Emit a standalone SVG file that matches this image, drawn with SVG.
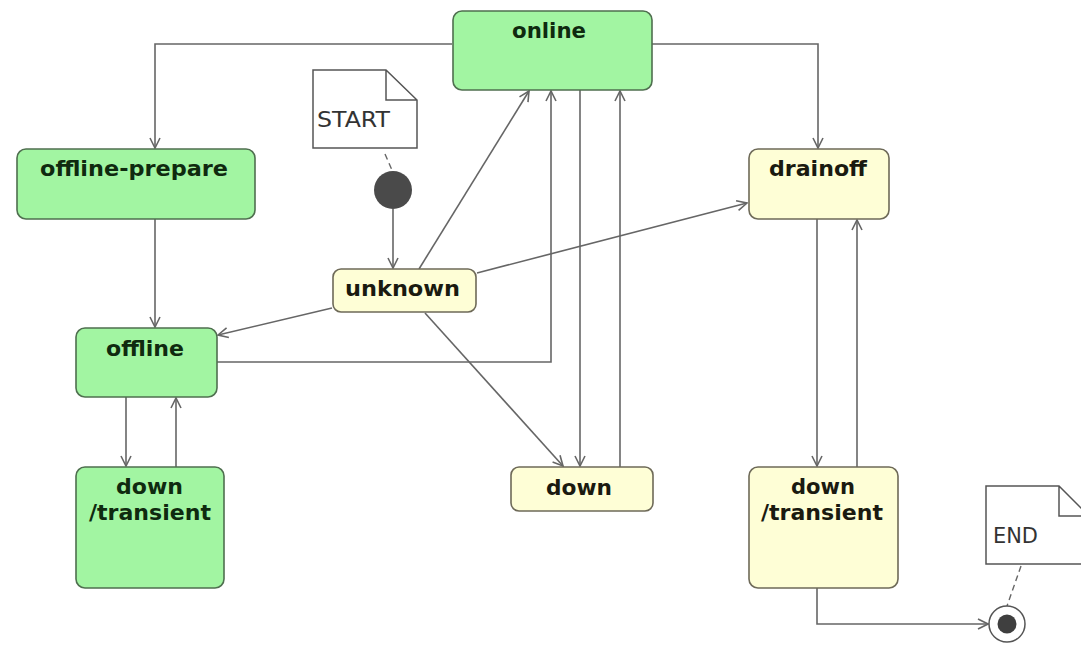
<svg xmlns="http://www.w3.org/2000/svg" width="1081" height="646" viewBox="0 0 1081 646">
<style>
.g rect{fill:#a2f5a2;stroke:#4f6f4f;stroke-width:1.6}
.y rect{fill:#fefed6;stroke:#6e6a58;stroke-width:1.6}
.lbl{font-family:"DejaVu Sans","Liberation Sans",sans-serif;font-weight:bold;font-size:21.5px;text-anchor:start}
.g .lbl{fill:#0f2a0f}
.y .lbl{fill:#1a1a10}
.note path{fill:#fff;stroke:#555;stroke-width:1.5}
.note text{font-family:"DejaVu Sans","Liberation Sans",sans-serif;font-size:22px;fill:#333}
.edges path{fill:none;stroke:#666;stroke-width:1.6;marker-end:url(#arr)}
.anchor{stroke:#666;stroke-width:1.4;stroke-dasharray:6 4;fill:none}
</style>
<defs>
<marker id="arr" viewBox="0 0 12 12" refX="11" refY="6" markerWidth="12" markerHeight="12" markerUnits="userSpaceOnUse" orient="auto">
<path d="M1,1 L11,6 L1,11" fill="none" stroke="#666" stroke-width="1.6"/>
</marker>
</defs>
<rect width="1081" height="646" fill="#fff"/>
<g class="edges">
<path d="M452,44 H155 V148"/>
<path d="M652,44 H818 V148"/>
<path d="M155,219 V327"/>
<path d="M393,209 V268"/>
<path d="M419,269 L529,91"/>
<path d="M217,362 H551 V91"/>
<path d="M580,90 V466"/>
<path d="M620,467 V91"/>
<path d="M477,273 L747,203"/>
<path d="M332,308 L218,335"/>
<path d="M425,313 L563,466"/>
<path d="M126,397 V466"/>
<path d="M176,467 V398"/>
<path d="M817,219 V466"/>
<path d="M857,467 V220"/>
<path d="M817,588 V624 H988"/>
</g>
<g id="online" class="g"><rect x="453" y="11" width="199" height="79" rx="9"/><text class="lbl" x="512" y="38" textLength="74" lengthAdjust="spacingAndGlyphs">online</text></g>
<g id="offline-prepare" class="g"><rect x="17" y="149" width="238" height="70" rx="9"/><text class="lbl" x="40" y="176" textLength="188" lengthAdjust="spacingAndGlyphs">offline-prepare</text></g>
<g id="drainoff" class="y"><rect x="749" y="149" width="140" height="70" rx="9"/><text class="lbl" x="769" y="176" textLength="98" lengthAdjust="spacingAndGlyphs">drainoff</text></g>
<g id="unknown" class="y"><rect x="333" y="269" width="143" height="43" rx="8"/><text class="lbl" x="345" y="296" textLength="115" lengthAdjust="spacingAndGlyphs">unknown</text></g>
<g id="offline" class="g"><rect x="76" y="328" width="141" height="69" rx="9"/><text class="lbl" x="106" y="356" textLength="78" lengthAdjust="spacingAndGlyphs">offline</text></g>
<g id="down-transient-left" class="g"><rect x="76" y="467" width="148" height="121" rx="9"/><text class="lbl" x="116" y="494" textLength="67" lengthAdjust="spacingAndGlyphs">down</text><text class="lbl" x="89" y="520" textLength="122" lengthAdjust="spacingAndGlyphs">/transient</text></g>
<g id="down" class="y"><rect x="511" y="467" width="142" height="44" rx="8"/><text class="lbl" x="546" y="495" textLength="66" lengthAdjust="spacingAndGlyphs">down</text></g>
<g id="down-transient-right" class="y"><rect x="749" y="467" width="149" height="121" rx="9"/><text class="lbl" x="791" y="494" textLength="64" lengthAdjust="spacingAndGlyphs">down</text><text class="lbl" x="761" y="520" textLength="122" lengthAdjust="spacingAndGlyphs">/transient</text></g>
<g id="start-note" class="note"><path d="M313,70 H386 L417,100 V148 H313 Z M386,70 V100 H417"/><text x="317" y="127" textLength="73" lengthAdjust="spacingAndGlyphs">START</text></g>
<path class="anchor" d="M385,154 L392,170"/>
<g id="start"><circle cx="393" cy="190" r="19" fill="#4a4a4a"/></g>
<g id="end-note" class="note"><path d="M986,486 H1059 L1089,516 V564 H986 Z M1059,486 V516 H1089"/><text x="993" y="543" textLength="45" lengthAdjust="spacingAndGlyphs">END</text></g>
<path class="anchor" d="M1021,566 L1007,606"/>
<g id="end"><circle cx="1007" cy="624" r="18" fill="#fff" stroke="#555" stroke-width="1.5"/><circle cx="1007" cy="624" r="9.5" fill="#3f3f3f"/></g>
</svg>
